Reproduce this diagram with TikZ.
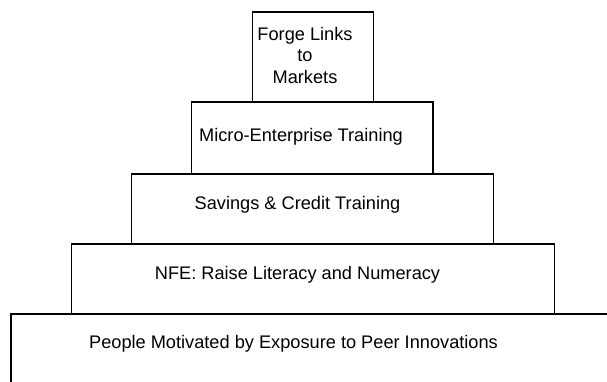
\documentclass[tikz,border=0pt]{standalone}
\usepackage{fontspec}
\setmainfont{Liberation Sans}
\usetikzlibrary{positioning}

\begin{document}
\begin{tikzpicture}[x=1pt, y=-1pt,
  tier/.style={draw, line width=1.5pt, inner sep=0pt, anchor=north west},
  tiertext/.style={font=\fontsize{18.2}{21.5}\selectfont, align=center}]
  \useasboundingbox (0,0) rectangle (607,381);

  % Stacked tiers, widest at the bottom
  \node[tier, minimum width=604pt, minimum height=74pt] (people) at (10,313) {};
  \node[tier, minimum width=483pt, minimum height=70pt] (nfe) at (70.5,243) {};
  \node[tier, minimum width=362pt, minimum height=70pt] (savings) at (130.5,173) {};
  \node[tier, minimum width=241.5pt, minimum height=72pt] (micro) at (190.5,101) {};
  \node[tier, minimum width=121pt, minimum height=90pt] (links) at (251.5,11) {};

  % Labels, set a little left of each centre
  \node[tiertext] (peopleText) at (293.5,344) {People Motivated by Exposure to Peer Innovations};
  \node[tiertext] (nfeText) at (297.5,275) {NFE: Raise Literacy and Numeracy};
  \node[tiertext] (savingsText) at (297.5,205) {Savings \& Credit Training};
  \node[tiertext] (microText) at (301,136.5) {Micro-Enterprise Training};
  \node[tiertext] (linksText) at (305,55) {Forge Links\\to\\Markets};
\end{tikzpicture}
\end{document}
